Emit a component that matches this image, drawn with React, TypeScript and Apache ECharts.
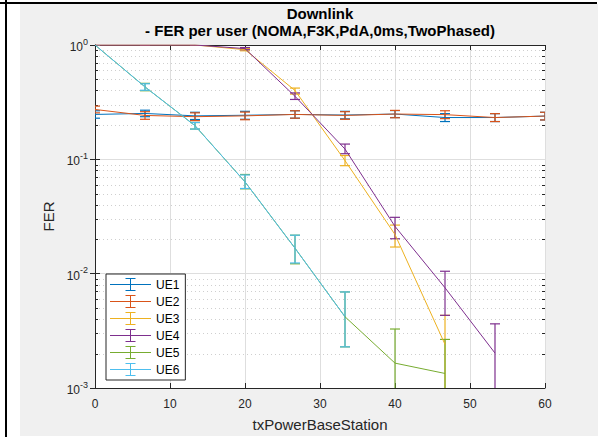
import React, { useEffect, useRef } from 'react';
import * as echarts from 'echarts';

const FONT = '"Liberation Sans", Arial, Helvetica, sans-serif';

const xValues = [0, 6.667, 13.333, 20, 26.667, 33.333, 40, 46.667, 53.333, 60];
const seriesNames = ['UE1', 'UE2', 'UE3', 'UE4', 'UE5', 'UE6'];
const colors = ['#0072BD', '#D95319', '#EDB120', '#7E2F8E', '#77AC30', '#4DBEEE'];

// FER values (null = zero / not plotted on the log axis)
const ue1 = [0.247, 0.252, 0.240, 0.243, 0.247, 0.244, 0.249, 0.232, 0.232, 0.239];
const ue1Lo = [0.229, 0.236, 0.223, 0.224, 0.229, 0.226, 0.232, 0.214, 0.214, 0.221];
const ue1Hi = [0.266, 0.269, 0.258, 0.263, 0.266, 0.263, 0.267, 0.251, 0.251, 0.258];

const ue2 = [0.273, 0.242, 0.236, 0.240, 0.247, 0.242, 0.249, 0.246, 0.232, 0.239];
const ue2Lo = [0.255, 0.224, 0.218, 0.222, 0.229, 0.224, 0.231, 0.227, 0.214, 0.221];
const ue2Hi = [0.292, 0.261, 0.255, 0.259, 0.266, 0.261, 0.268, 0.266, 0.251, 0.258];

const ue3 = [1, 1, 1, 0.910, 0.400, 0.0975, 0.0220, 0.00241, null, null];
const ue3Lo = [1, 1, 1, 0.890, 0.372, 0.0880, 0.0171, 0.00001, null, null];
const ue3Hi = [1, 1, 1, 0.930, 0.420, 0.108, 0.0266, 0.00432, null, null];

const ue4 = [1, 1, 1, 0.930, 0.356, 0.123, 0.0259, 0.00753, 0.00202, null];
const ue4Lo = [1, 1, 1, 0.910, 0.334, 0.112, 0.0202, 0.00432, 0.00001, null];
const ue4Hi = [1, 1, 1, 0.950, 0.381, 0.136, 0.0311, 0.0105, 0.00364, null];

const ue5 = [1, 0.430, 0.197, 0.0635, 0.0167, 0.0042, 0.00165, 0.00134, null, null];
const ue5Lo = [1, 0.398, 0.184, 0.0552, 0.0122, 0.00229, 0.00001, 0.00001, null, null];
const ue5Hi = [1, 0.462, 0.210, 0.0737, 0.0217, 0.00692, 0.00328, 0.00266, null, null];

const ue6 = [1, 0.430, 0.197, 0.0635, 0.0167, 0.0042, null, null, null, null];
const ue6Lo = [1, 0.402, 0.184, 0.0556, 0.0124, 0.00229, null, null, null, null];
const ue6Hi = [1, 0.458, 0.210, 0.0730, 0.0217, 0.00692, null, null, null, null];

const values = [ue1, ue2, ue3, ue4, ue5, ue6];
const lows = [ue1Lo, ue2Lo, ue3Lo, ue4Lo, ue5Lo, ue6Lo];
const highs = [ue1Hi, ue2Hi, ue3Hi, ue4Hi, ue5Hi, ue6Hi];

const minorTicks = [
  0.002, 0.003, 0.004, 0.005, 0.006, 0.007, 0.008, 0.009,
  0.02, 0.03, 0.04, 0.05, 0.06, 0.07, 0.08, 0.09,
  0.2, 0.3, 0.4, 0.5, 0.6, 0.7, 0.8, 0.9,
];

const AXIS = '#262626';
const ICON =
  'path://M0,6L41,6L41,7L0,7Z M20,0L21,0L21,13L20,13Z M15.5,0L25.5,0L25.5,1L15.5,1Z M15.5,12L25.5,12L25.5,13L15.5,13Z';

export default function App() {
  const ref = useRef<HTMLDivElement>(null);

  useEffect(() => {
    document.body.style.margin = '0';
    if (!ref.current) return;
    const chart = echarts.init(ref.current, null, { renderer: 'svg' });

    const series: any[] = [];
    series.push({
      type: 'custom',
      name: 'minor',
      z: 1,
      silent: true,
      data: minorTicks.map((v) => [0, v]),
      renderItem: (params: any, api: any) => {
        const cs = params.coordSys;
        const y = Math.round(api.coord([0, api.value(1)])[1]) + 0.5;
        return {
          type: 'group',
          children: [
            {
              type: 'line',
              shape: { x1: cs.x, y1: y, x2: cs.x + cs.width, y2: y },
              style: { stroke: '#cfcfcf', lineWidth: 1, lineDash: [1, 3] },
            },
            {
              type: 'line',
              shape: { x1: cs.x, y1: y, x2: cs.x + 3, y2: y },
              style: { stroke: AXIS, lineWidth: 1 },
            },
            {
              type: 'line',
              shape: { x1: cs.x + cs.width - 3, y1: y, x2: cs.x + cs.width, y2: y },
              style: { stroke: AXIS, lineWidth: 1 },
            },
          ],
        };
      },
    });

    seriesNames.forEach((name, k) => {
      const color = colors[k];
      const lineData: any[] = [];
      const errData: any[] = [];
      xValues.forEach((x, i) => {
        const v = values[k][i];
        if (v != null) {
          lineData.push([x, v]);
          errData.push([x, lows[k][i], highs[k][i]]);
        }
      });
      series.push({
        type: 'line',
        name,
        data: lineData,
        symbol: 'none',
        showSymbol: false,
        silent: true,
        clip: true,
        lineStyle: { color, width: 1 },
        itemStyle: { color },
        emphasis: { disabled: true },
      });
      series.push({
        type: 'custom',
        name: name + ' err',
        silent: true,
        clip: true,
        encode: { x: 0, y: [1, 2] },
        data: errData,
        renderItem: (params: any, api: any) => {
          const x = api.value(0);
          const top = api.coord([x, api.value(2)]);
          const bot = api.coord([x, api.value(1)]);
          const style = { stroke: color, lineWidth: 1.2, fill: null };
          return {
            type: 'group',
            children: [
              { type: 'line', shape: { x1: top[0], y1: top[1], x2: bot[0], y2: bot[1] }, style },
              { type: 'line', shape: { x1: top[0] - 5, y1: top[1], x2: top[0] + 5, y2: top[1] }, style },
              { type: 'line', shape: { x1: bot[0] - 5, y1: bot[1], x2: bot[0] + 5, y2: bot[1] }, style },
            ],
          };
        },
      });
    });

    const option: any = {
      animation: false,
      textStyle: { fontFamily: FONT },
      title: {
        text: 'Downlink\n- FER per user (NOMA,F3K,PdA,0ms,TwoPhased)',
        left: 320,
        top: 5,
        padding: 0,
        textAlign: 'center',
        textStyle: { fontSize: 15, fontWeight: 'bold', color: '#000', lineHeight: 17, fontFamily: FONT },
      },
      graphic: {
        elements: [
          { type: 'rect', z: -100, shape: { x: 20, y: 4, width: 578, height: 432 }, style: { fill: '#f0f0f0' }, silent: true },
          { type: 'rect', z: -99, shape: { x: 5, y: 0, width: 2, height: 437 }, style: { fill: '#000' }, silent: true },
          { type: 'rect', z: -99, shape: { x: 0, y: 2, width: 597, height: 2 }, style: { fill: '#000' }, silent: true },
        ],
      },
      legend: {
        orient: 'vertical',
        left: 106,
        top: 274,
        itemWidth: 41,
        itemHeight: 13,
        itemGap: 4,
        padding: [4, 6, 4, 4],
        backgroundColor: '#fff',
        borderColor: AXIS,
        borderWidth: 1,
        selectedMode: false,
        textStyle: { fontSize: 12, color: '#000', fontFamily: FONT },
        data: seriesNames.map((n, k) => ({ name: n, icon: ICON, itemStyle: { color: colors[k], borderWidth: 0 } })),
      },
      grid: { left: 95, right: 58, top: 45, bottom: 46, show: true, backgroundColor: '#fff', borderWidth: 0 },
      xAxis: [
        {
          type: 'value',
          min: 0,
          max: 60,
          interval: 10,
          position: 'bottom',
          name: 'txPowerBaseStation',
          nameLocation: 'middle',
          nameGap: 29,
          nameTextStyle: { fontSize: 15, color: AXIS, fontFamily: FONT },
          axisLine: { show: true, lineStyle: { color: AXIS, width: 1 } },
          axisTick: { show: true, inside: true, length: 5, lineStyle: { color: AXIS } },
          axisLabel: { fontSize: 12, color: AXIS, margin: 10, fontFamily: FONT },
          splitLine: { show: true, lineStyle: { color: '#dedede', width: 1 } },
        },
        {
          type: 'value',
          min: 0,
          max: 60,
          interval: 10,
          position: 'top',
          axisLine: { show: true, lineStyle: { color: AXIS, width: 1 } },
          axisTick: { show: true, inside: true, length: 5, lineStyle: { color: AXIS } },
          axisLabel: { show: false },
          splitLine: { show: false },
        },
      ],
      yAxis: [
        {
          type: 'log',
          logBase: 10,
          min: 0.001,
          max: 1,
          position: 'left',
          name: 'FER',
          nameLocation: 'middle',
          nameGap: 37,
          nameTextStyle: { fontSize: 15, color: AXIS, fontFamily: FONT },
          axisLine: { show: true, lineStyle: { color: AXIS, width: 1 } },
          axisTick: { show: true, inside: true, length: 5, lineStyle: { color: AXIS } },
          minorTick: { show: false },
          axisLabel: {
            margin: 7,
            color: AXIS,
            fontSize: 12,
            fontFamily: FONT,
            formatter: (v: number) => {
              const e = Math.round(Math.log10(v));
              return '{base|10}{sup|' + e + '}';
            },
            rich: {
              base: { fontSize: 12, color: AXIS, fontFamily: FONT, verticalAlign: 'bottom' },
              sup: { fontSize: 9, color: AXIS, fontFamily: FONT, verticalAlign: 'bottom', padding: [0, 0, 7, 0] },
            },
          },
          splitLine: { show: true, lineStyle: { color: '#dedede', width: 1 } },
        },
        {
          type: 'log',
          logBase: 10,
          min: 0.001,
          max: 1,
          position: 'right',
          axisLine: { show: true, lineStyle: { color: AXIS, width: 1 } },
          axisTick: { show: true, inside: true, length: 5, lineStyle: { color: AXIS } },
          axisLabel: { show: false },
          splitLine: { show: false },
        },
      ],
      series,
    };

    chart.setOption(option);
    return () => chart.dispose();
  }, []);

  return <div ref={ref} style={{ width: 603, height: 437 }} />;
}
